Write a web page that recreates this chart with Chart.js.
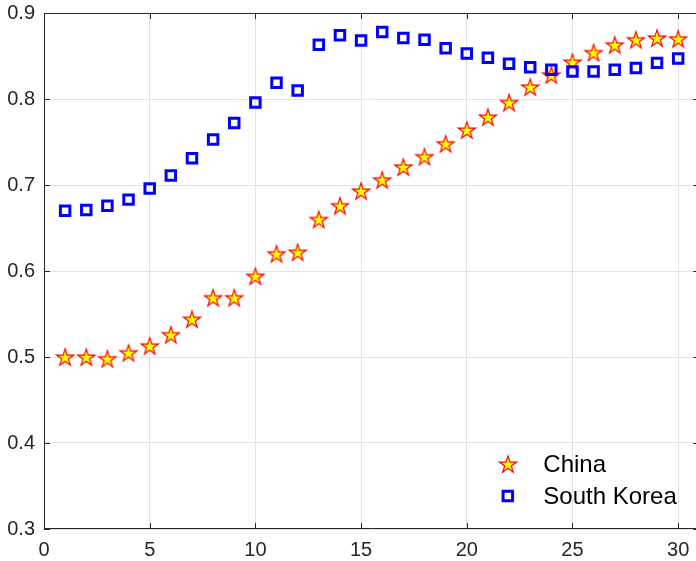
<!DOCTYPE html>
<html>
<head>
<meta charset="utf-8">
<script src="https://cdn.jsdelivr.net/npm/chart.js@4/dist/chart.umd.min.js"></script>
<style>
  html, body { margin: 0; padding: 0; background: #fff; overflow: hidden; }
  #wrap { width: 760px; height: 561px; }
</style>
</head>
<body>
<div id="wrap"></div>
<script>
// Index positions along the horizontal axis
const periods = [1,2,3,4,5,6,7,8,9,10,11,12,13,14,15,16,17,18,19,20,21,22,23,24,25,26,27,28,29,30];

// Series values
const chinaValues = [0.500,0.500,0.498,0.505,0.513,0.526,0.544,0.569,0.569,0.594,
                     0.620,0.622,0.660,0.676,0.693,0.706,0.721,0.733,0.748,0.764,
                     0.779,0.796,0.814,0.828,0.843,0.854,0.863,0.869,0.871,0.870];
const koreaValues = [0.670,0.671,0.676,0.683,0.696,0.711,0.731,0.753,0.772,0.796,
                     0.819,0.810,0.863,0.874,0.868,0.878,0.871,0.869,0.859,0.853,
                     0.848,0.841,0.837,0.834,0.832,0.832,0.834,0.836,0.842,0.847];

// Axis ticks
const xTicks = [0,5,10,15,20,25,30];
const yTicks = [0.3,0.4,0.5,0.6,0.7,0.8,0.9];

const seriesNames = ['China', 'South Korea'];

const FONT = '"Liberation Sans", Arial, Helvetica, sans-serif';
const AXIS_COLOR = '#262626';
const GRID_COLOR = '#e3e3e3';
const PLOT_RIGHT = 699;   // right edge of the axes box (just past the visible page)

// Five-pointed star marker, yellow with red edge
function makeStar(R) {
  const size = Math.ceil(R * 2 + 4);
  const cv = document.createElement('canvas');
  cv.width = size; cv.height = size;
  const g = cv.getContext('2d');
  const cx = size / 2, cy = size / 2 + R * 0.095;
  const r = R * 0.382;
  g.beginPath();
  for (let i = 0; i < 10; i++) {
    const rad = (i % 2 === 0) ? R : r;
    const a = -Math.PI / 2 + i * Math.PI / 5;
    const px = cx + rad * Math.cos(a), py = cy + rad * Math.sin(a);
    if (i === 0) g.moveTo(px, py); else g.lineTo(px, py);
  }
  g.closePath();
  g.fillStyle = '#ffff00';
  g.fill();
  g.lineWidth = 1.2;
  g.strokeStyle = '#ff0000';
  g.lineJoin = 'miter';
  g.stroke();
  return cv;
}
const starImg = makeStar(9);

const chinaPts = periods.map((p, i) => ({x: p, y: chinaValues[i]}));
const koreaPts = periods.map((p, i) => ({x: p, y: koreaValues[i]}));

// Box outline with inward tick marks on all four sides
const boxPlugin = {
  id: 'boxTicks',
  beforeDatasetsDraw(chart) {
    const {ctx, chartArea: a, scales: {x, y}} = chart;
    const tl = 6;
    ctx.save();
    ctx.strokeStyle = AXIS_COLOR;
    ctx.lineWidth = 1;
    ctx.beginPath();
    ctx.rect(a.left + 0.5, a.top + 0.5, a.right - a.left - 1, a.bottom - a.top - 1);
    ctx.stroke();
    ctx.beginPath();
    xTicks.forEach(v => {
      const px = Math.round(x.getPixelForValue(v)) + 0.5;
      ctx.moveTo(px, a.bottom); ctx.lineTo(px, a.bottom - tl);
      ctx.moveTo(px, a.top); ctx.lineTo(px, a.top + tl);
    });
    yTicks.forEach(v => {
      const py = Math.round(y.getPixelForValue(v)) + 0.5;
      ctx.moveTo(a.left, py); ctx.lineTo(a.left + tl, py);
      ctx.moveTo(a.right, py); ctx.lineTo(a.right - tl, py);
    });
    ctx.stroke();
    ctx.restore();
  }
};

// Legend drawn inside the lower right of the plot area
const legendPlugin = {
  id: 'innerLegend',
  afterDatasetsDraw(chart) {
    const {ctx, chartArea: a} = chart;
    const mx = a.right - 191.5;
    const tx = a.right - 156;
    const rows = [a.bottom - 65, a.bottom - 33];
    ctx.save();
    ctx.drawImage(starImg, Math.round(mx - starImg.width / 2), Math.round(rows[0] - starImg.height / 2));
    const s = 9.5;
    ctx.strokeStyle = '#0000ff';
    ctx.lineWidth = 3;
    ctx.strokeRect(mx - s / 2, rows[1] - s / 2, s, s);
    ctx.fillStyle = '#000';
    ctx.font = '24px ' + FONT;
    ctx.textAlign = 'left';
    ctx.textBaseline = 'middle';
    ctx.fillText(seriesNames[0], tx, rows[0] + 1);
    ctx.fillText(seriesNames[1], tx, rows[1] + 1);
    ctx.restore();
  }
};

function buildChart(width) {
  const wrap = document.getElementById('wrap');
  wrap.innerHTML = '';
  const cv = document.createElement('canvas');
  cv.width = width; cv.height = 561;
  wrap.appendChild(cv);
  return new Chart(cv, {
    type: 'scatter',
    data: {
      datasets: [
        {
          label: seriesNames[0],
          data: chinaPts,
          pointStyle: starImg,
          order: 2
        },
        {
          label: seriesNames[1],
          data: koreaPts,
          pointStyle: 'rect',
          pointRadius: 6.7,
          borderWidth: 3,
          borderColor: '#0000ff',
          backgroundColor: 'rgba(255,255,255,0)',
          order: 1
        }
      ]
    },
    options: {
      responsive: false,
      maintainAspectRatio: false,
      animation: false,
      events: [],
      layout: { padding: { top: 13, right: 0, bottom: 0, left: 0 } },
      plugins: {
        legend: { display: false },
        tooltip: { enabled: false }
      },
      scales: {
        x: {
          type: 'linear',
          min: 0, max: 31,
          afterBuildTicks(s) { s.ticks = xTicks.map(v => ({value: v})); },
          afterFit(s) { s.height = 32; s.paddingLeft = 0; s.paddingRight = 0; },
          grid: { color: GRID_COLOR, lineWidth: 1, drawTicks: false },
          border: { display: false },
          ticks: {
            color: AXIS_COLOR,
            font: { family: FONT, size: 20 },
            padding: 9,
            maxRotation: 0,
            callback: v => String(v)
          }
        },
        y: {
          type: 'linear',
          min: 0.3, max: 0.9,
          afterBuildTicks(s) { s.ticks = yTicks.map(v => ({value: v})); },
          afterFit(s) { s.width = 44; s.paddingTop = 0; s.paddingBottom = 0; },
          grid: { color: GRID_COLOR, lineWidth: 1, drawTicks: false },
          border: { display: false },
          ticks: {
            color: AXIS_COLOR,
            font: { family: FONT, size: 20 },
            padding: 9,
            callback: v => v.toFixed(1)
          }
        }
      }
    },
    plugins: [boxPlugin, legendPlugin]
  });
}

// Widen the canvas until the axes box ends at PLOT_RIGHT
let w = 700;
let chart = buildChart(w);
for (let i = 0; i < 3; i++) {
  const d = Math.round(PLOT_RIGHT - chart.chartArea.right);
  if (d === 0) break;
  chart.destroy();
  w += d;
  chart = buildChart(w);
}
</script>
</body>
</html>
